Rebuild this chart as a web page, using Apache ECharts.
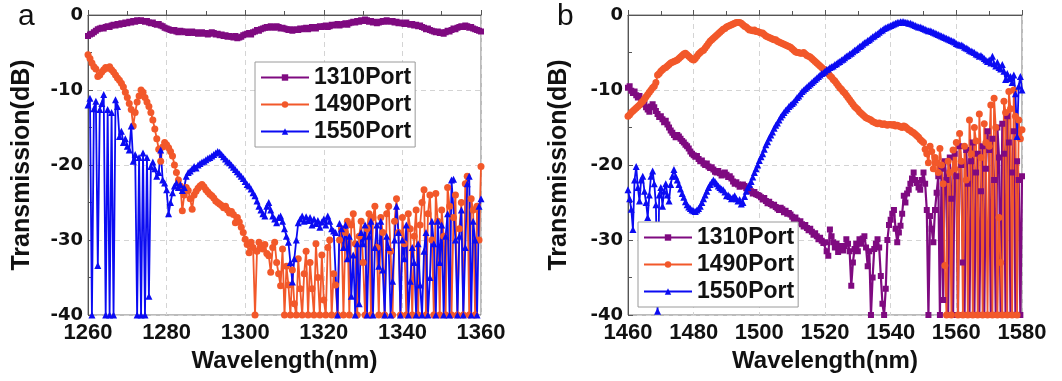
<!DOCTYPE html>
<html><head><meta charset="utf-8">
<script src="https://cdn.jsdelivr.net/npm/echarts@6/dist/echarts.min.js"></script>
<style>html,body{margin:0;padding:0;background:#fff}#c{width:1062px;height:381px}</style>
</head><body><div id="c"></div>
<script>
// ---------- data ----------
const seriesNames = ['1310Port', '1490Port', '1550Port'];
const xTicksA = [1260, 1280, 1300, 1320, 1340, 1360];
const xTicksB = [1460, 1480, 1500, 1520, 1540, 1560, 1580];
const yTicks = [-40, -30, -20, -10, 0];
const wlStep = 0.5; // nm, sampling step of the measured spectra

// panel a : 1260..1360 nm, step 0.5
const p1310A = [
-2.8,-2.6,-2.5,-2.3,-2.1,-1.9,-1.8,-1.7,-1.8,-1.6,
-1.5,-1.6,-1.4,-1.3,-1.4,-1.2,-1.3,-1.1,-1.2,-1.0,
-1.1,-0.9,-1.0,-0.8,-0.9,-0.7,-0.8,-0.7,-0.8,-0.9,
-0.8,-1.0,-1.1,-1.0,-1.2,-1.3,-1.2,-1.4,-1.5,-1.7,
-1.8,-1.9,-2.0,-2.1,-2.0,-2.2,-2.3,-2.1,-2.2,-2.3,
-2.2,-2.4,-2.3,-2.2,-2.4,-2.3,-2.5,-2.4,-2.3,-2.5,
-2.4,-2.6,-2.5,-2.3,-2.4,-2.6,-2.5,-2.7,-2.6,-2.8,
-2.7,-2.9,-2.8,-2.9,-3.0,-2.8,-3.1,-3.0,-2.9,-2.7,
-2.6,-2.5,-2.4,-2.6,-2.3,-2.2,-2.0,-2.1,-1.9,-1.8,
-1.7,-1.6,-1.7,-1.5,-1.6,-1.7,-1.5,-1.6,-1.8,-1.7,
-1.8,-1.9,-2.0,-1.9,-2.1,-2.0,-1.9,-2.0,-1.8,-1.9,
-1.8,-1.7,-1.9,-1.8,-1.6,-1.7,-1.8,-1.6,-1.5,-1.6,
-1.5,-1.4,-1.6,-1.5,-1.3,-1.4,-1.3,-1.2,-1.4,-1.3,
-1.2,-1.1,-1.3,-1.1,-1.0,-0.9,-1.0,-0.8,-0.9,-0.7,
-0.8,-0.6,-0.7,-0.9,-0.8,-1.0,-0.9,-1.1,-1.0,-0.9,
-0.8,-0.9,-0.7,-0.8,-0.9,-0.8,-1.0,-0.9,-1.1,-1.0,
-1.1,-1.2,-1.0,-1.2,-1.3,-1.2,-1.4,-1.3,-1.5,-1.4,
-1.6,-1.7,-1.9,-1.8,-2.0,-2.1,-2.2,-2.3,-2.2,-2.4,
-2.3,-2.5,-2.3,-2.1,-2.2,-2.0,-1.8,-1.9,-1.7,-1.6,
-1.5,-1.6,-1.4,-1.5,-1.7,-1.6,-1.8,-1.9,-2.0,-2.1,
-2.2];
const p1490A = [
-5.3,-5.8,-6.4,-6.9,-7.2,-8.2,-8.0,-7.6,-7.3,-7.0,
-7.1,-6.9,-7.3,-7.6,-8.0,-8.4,-8.7,-9.1,-9.6,-10.3,
-11.0,-11.8,-12.6,-14.8,-13.0,-11.6,-10.8,-10.0,-10.3,-11.0,
-11.6,-12.2,-13.0,-14.0,-15.2,-16.5,-17.9,-19.5,-17.6,-17.0,
-17.3,-17.7,-18.2,-18.8,-20.0,-21.0,-22.0,-22.8,-26.1,-24.0,
-23.0,-23.4,-24.5,-25.9,-24.0,-23.5,-23.1,-22.8,-22.6,-22.9,
-23.3,-23.6,-23.9,-24.1,-24.4,-24.8,-25.0,-25.2,-25.4,-25.7,
-25.5,-26.0,-26.4,-26.2,-26.6,-27.7,-27.0,-27.6,-28.3,-29.0,
-29.9,-30.6,-31.7,-30.3,-31.0,-40,-31.5,-30.3,-30.8,-31.2,
-30.6,-31.8,-32.1,-34.3,-31.0,-30.3,-33.0,-34.5,-36.1,-31.2,
-40,-33.5,-36.0,-40,-34.0,-38.5,-40,-32.5,-36.5,-40,
-34.5,-31.5,-40,-33.0,-36.5,-40,-30.5,-35.0,-40,-32.0,
-38.0,-40,-31.0,-30.0,-40,-34.5,-36.0,-40,-30.0,-28.5,
-40,-29.0,-27.5,-40,-28.0,-26.5,-30.5,-40,-29.5,-27.5,
-33.0,-40,-28.5,-26.5,-40,-27.0,-25.5,-31.0,-40,-27.0,
-29.0,-40,-26.5,-25.5,-31.5,-40,-27.5,-24.5,-29.0,-40,
-27.0,-30.5,-40,-26.5,-28.5,-40,-29.5,-26.0,-40,-28.0,
-25.0,-23.3,-40,-26.5,-24.0,-30.0,-40,-23.8,-27.5,-40,
-26.0,-29.5,-40,-23.0,-25.5,-40,-27.0,-24.0,-40,-28.5,
-25.0,-40,-22.5,-21.5,-40,-24.5,-26.0,-40,-25.5,-30.0,
-20.2];
const p1550A = [
-12.0,-11.1,-40,-12.5,-11.5,-33.4,-12.6,-11.8,-10.6,-40,
-12.6,-40,-13.0,-40,-11.3,-12.2,-16.2,-15.5,-17.0,-16.5,
-17.5,-18.0,-14.8,-19.5,-18.6,-40,-19.0,-40,-18.4,-40,
-19.0,-37.5,-20.2,-19.6,-20.5,-21.5,-21.0,-18.0,-22.0,-22.4,
-23.3,-26.5,-25.0,-23.7,-22.8,-22.4,-23.0,-22.6,-23.4,-23.0,
-21.5,-21.0,-20.8,-20.5,-20.2,-20.4,-20.0,-19.8,-19.6,-19.5,
-19.3,-19.1,-19.0,-18.8,-18.6,-18.4,-18.2,-18.3,-18.6,-18.9,
-19.2,-19.5,-19.7,-20.0,-20.3,-20.6,-20.9,-21.2,-21.5,-21.8,
-22.2,-22.6,-22.8,-23.2,-23.7,-24.1,-24.8,-25.5,-26.0,-26.5,
-26.8,-25.5,-25.0,-26.0,-26.8,-27.2,-27.7,-27.0,-26.8,-27.5,
-28.5,-29.5,-30.3,-33.0,-35.6,-32.5,-30.0,-27.7,-27.2,-26.8,
-27.5,-26.9,-27.4,-27.0,-28.0,-27.2,-27.8,-27.4,-28.3,-27.6,
-27.2,-28.0,-26.8,-27.5,-28.5,-28.8,-29.0,-40,-27.8,-28.5,
-31.0,-28.0,-32.5,-29.5,-37.5,-32.0,-40,-30.5,-38.5,-29.0,
-30.5,-28.0,-40,-29.5,-27.5,-40,-31.0,-28.0,-33.5,-27.5,
-34.0,-40,-29.5,-31.0,-40,-35.5,-30.0,-25.5,-29.0,-40,
-30.0,-32.5,-28.0,-40,-35.5,-31.0,-33.0,-40,-30.5,-36.0,
-40,-31.5,-29.0,-40,-35.0,-27.5,-30.5,-40,-27.5,-33.0,
-28.0,-40,-29.5,-26.5,-40,-22.0,-21.9,-30.0,-40,-29.5,
-26.0,-40,-31.0,-22.5,-21.5,-40,-27.5,-30.0,-40,-25.5,
-24.5];

// panel b : 1460..1580 nm, step 0.5
const p1310B = [
-9.7,-9.5,-10.1,-10.4,-10.2,-10.7,-11.0,-10.8,-11.4,-11.9,
-11.7,-12.3,-12.6,-12.9,-12.2,-11.9,-12.3,-12.8,-13.2,-13.6,
-13.5,-13.9,-14.3,-14.1,-14.6,-15.0,-15.4,-15.7,-16.0,-16.3,
-16.0,-16.2,-16.5,-16.8,-17.0,-17.3,-17.5,-17.8,-18.2,-18.5,
-18.7,-18.9,-18.8,-19.2,-19.5,-19.4,-19.8,-20.0,-19.8,-20.2,
-20.4,-20.3,-20.6,-20.9,-21.0,-20.8,-21.1,-21.4,-21.2,-21.0,
-21.3,-21.6,-21.5,-21.8,-22.2,-22.5,-22.3,-22.6,-22.9,-22.7,
-22.6,-22.8,-23.1,-23.4,-23.2,-23.5,-23.8,-23.6,-23.9,-24.0,
-24.1,-24.3,-24.6,-24.4,-24.8,-25.1,-24.9,-25.2,-25.4,-25.3,
-25.6,-25.8,-26.0,-25.7,-25.9,-26.3,-26.1,-26.5,-26.4,-26.6,
-26.9,-27.2,-27.0,-27.4,-27.7,-27.5,-27.9,-28.2,-28.0,-28.4,
-28.7,-28.5,-28.9,-29.3,-29.1,-29.5,-29.9,-29.7,-30.1,-30.4,
-30.3,-31.5,-32.1,-28.6,-29.5,-30.3,-31.0,-30.5,-31.6,-31.2,
-30.8,-31.4,-30.8,-29.9,-30.5,-31.5,-36.1,-33.0,-31.2,-30.5,
-31.5,-29.9,-30.5,-29.8,-29.5,-31.0,-33.5,-31.5,-40,-35.0,
-31.2,-30.5,-29.9,-31.0,-34.8,-38.5,-40,-36.5,-30.0,-28.0,
-27.3,-26.5,-26.0,-28.5,-30.3,-29.0,-28.1,-26.5,-24.1,-25.0,
-23.8,-23.3,-22.5,-21.8,-21.0,-22.0,-22.4,-23.0,-23.3,-22.0,
-21.0,-22.5,-26.0,-40,-26.8,-28.5,-30.3,-26.0,-23.7,-21.5,
-40,-20.5,-38.0,-19.5,-22.0,-40,-19.0,-24.5,-40,-18.5,
-21.5,-40,-17.5,-20.0,-33.0,-40,-18.0,-22.5,-40,-19.5,
-17.0,-40,-21.0,-18.5,-40,-23.5,-17.5,-40,-20.5,-15.5,
-18.0,-40,-16.5,-22.0,-40,-15.0,-19.0,-40,-14.5,-18.5,
-40,-13.5,-17.0,-40,-21.0,-15.5,-40,-19.5,-22.0,-40,
-21.5];
const p1490B = [
-13.5,-13.3,-13.0,-12.8,-12.6,-12.4,-12.2,-12.0,-11.7,-11.5,
-11.2,-10.9,-10.6,-10.3,-10.0,-9.7,-9.5,-9.0,-8.0,-7.8,
-7.5,-7.3,-7.1,-7.0,-6.8,-6.6,-6.4,-6.3,-6.2,-6.1,
-6.0,-5.8,-5.6,-5.4,-5.2,-5.1,-5.3,-5.5,-5.7,-5.9,
-6.0,-5.8,-5.5,-5.2,-5.0,-4.8,-4.7,-4.4,-4.1,-3.8,
-3.5,-3.3,-3.1,-2.9,-2.7,-2.5,-2.3,-2.1,-1.9,-1.8,
-1.6,-1.5,-1.4,-1.3,-1.2,-1.1,-1.0,-1.0,-1.0,-1.1,
-1.3,-1.5,-1.6,-1.8,-2.0,-2.0,-2.1,-2.0,-2.2,-2.2,
-2.3,-2.4,-2.4,-2.6,-2.8,-2.9,-3.0,-3.1,-3.2,-3.3,
-3.3,-3.5,-3.6,-3.7,-3.8,-3.9,-4.0,-4.1,-4.2,-4.3,
-4.5,-4.7,-4.9,-5.0,-5.0,-5.1,-5.1,-5.0,-5.2,-5.4,
-5.5,-5.6,-5.8,-6.0,-6.2,-6.4,-6.6,-6.8,-7.0,-7.2,
-7.3,-7.6,-7.8,-8.1,-8.3,-8.6,-8.8,-9.1,-9.4,-9.7,
-9.9,-10.2,-10.4,-10.7,-11.0,-11.3,-11.6,-11.9,-12.2,-12.4,
-12.6,-12.9,-13.1,-13.3,-13.5,-13.7,-13.8,-13.9,-14.0,-14.2,
-14.3,-14.4,-14.5,-14.4,-14.5,-14.6,-14.5,-14.6,-14.7,-14.6,
-14.6,-14.7,-14.6,-14.8,-14.7,-14.8,-14.9,-15.0,-14.8,-14.9,
-15.1,-15.3,-15.4,-15.6,-15.7,-15.9,-16.1,-16.3,-16.6,-16.8,
-17.0,-17.9,-18.5,-19.7,-17.5,-18.2,-20.5,-19.0,-19.7,-21.0,
-17.8,-20.0,-22.5,-33.4,-40,-19.5,-21.0,-40,-18.0,-20.5,
-17.0,-40,-15.8,-19.5,-40,-17.5,-22.0,-40,-14.0,-18.5,
-40,-15.0,-16.8,-40,-13.2,-19.0,-40,-14.5,-17.0,-40,
-17.5,-12.0,-40,-11.1,-15.0,-40,-27.0,-33.0,-40,-11.5,
-13.0,-40,-10.2,-12.5,-40,-10.0,-13.5,-40,-14.0,-16.5,
-15.3];
const p1550B = [
-23.3,-24.5,-25.9,-28.6,-22.0,-20.2,-23.0,-24.8,-22.0,-21.5,
-23.5,-25.0,-27.0,-24.0,-21.5,-20.8,-22.5,-25.3,-39.5,-24.0,
-23.0,-25.5,-23.5,-22.5,-24.0,-24.8,-22.6,-21.5,-20.6,-21.5,
-22.0,-22.6,-23.2,-23.8,-24.3,-24.9,-25.3,-25.6,-25.8,-26.0,
-26.1,-26.2,-26.0,-25.8,-25.5,-25.0,-24.5,-24.0,-23.5,-23.0,
-22.6,-22.3,-22.0,-22.2,-22.5,-22.8,-23.0,-23.2,-23.3,-23.6,
-24.1,-24.0,-24.2,-24.5,-24.3,-24.1,-24.5,-24.8,-24.6,-25.2,
-25.0,-24.2,-23.5,-23.0,-22.6,-22.2,-21.6,-21.0,-20.5,-20.0,
-19.4,-18.9,-18.5,-17.9,-17.3,-16.9,-16.4,-16.0,-15.6,-15.1,
-14.7,-14.4,-14.0,-13.6,-13.3,-13.0,-12.7,-12.5,-12.2,-12.0,
-11.8,-11.6,-11.3,-11.0,-10.8,-10.5,-10.2,-10.0,-9.8,-9.6,
-9.4,-9.2,-9.0,-8.8,-8.6,-8.4,-8.2,-8.0,-7.8,-7.7,
-7.5,-7.3,-7.2,-7.0,-6.9,-6.8,-6.6,-6.5,-6.3,-6.2,
-6.0,-5.9,-5.7,-5.5,-5.4,-5.2,-5.1,-4.9,-4.7,-4.6,
-4.4,-4.2,-4.1,-3.9,-3.7,-3.6,-3.4,-3.3,-3.1,-2.9,
-2.8,-2.6,-2.5,-2.3,-2.1,-2.0,-1.8,-1.7,-1.6,-1.5,
-1.4,-1.3,-1.2,-1.1,-1.0,-1.0,-0.9,-0.9,-0.9,-1.0,
-1.0,-1.1,-1.1,-1.2,-1.3,-1.4,-1.5,-1.6,-1.6,-1.7,
-1.8,-1.9,-2.0,-2.1,-2.1,-2.2,-2.3,-2.4,-2.5,-2.6,
-2.7,-2.8,-2.9,-3.0,-3.1,-3.2,-3.3,-3.4,-3.5,-3.6,
-3.8,-3.9,-4.0,-4.0,-4.1,-4.3,-4.4,-4.5,-4.7,-4.8,
-4.9,-5.0,-5.2,-5.3,-5.5,-5.4,-5.6,-5.8,-6.0,-6.2,
-6.0,-6.4,-5.5,-6.5,-6.8,-6.3,-7.0,-7.2,-6.6,-7.5,
-8.6,-7.8,-8.5,-8.2,-9.0,-8.0,-10.5,-16.2,-9.5,-8.2,
-10.0];

// ---------- chart ----------
function wavelengths(start, n) {
  const a = [];
  for (let i = 0; i < n; i++) a.push(+(start + i * wlStep).toFixed(2));
  return a;
}
function pairs(wl, vals) { return vals.map((v, i) => [wl[i], v]); }
const wlA = wavelengths(xTicksA[0], p1310A.length);
const wlB = wavelengths(xTicksB[0], p1310B.length);

const colors = ['#7f0a80', '#f2582a', '#0b0bf2'];
const symbols = ['rect', 'circle', 'triangle'];
const symSizes = [6, 7, 7];
const lineW = [2.2, 1.8, 1.8];

const AX = '#555';
const FONT = '"Liberation Sans", Arial, sans-serif';

function xAxis(gi, ticks) {
  return {
    gridIndex: gi, type: 'value', min: ticks[0], max: ticks[ticks.length - 1], interval: ticks[1] - ticks[0],
    axisLine: { lineStyle: { color: AX, width: 1 } },
    axisTick: { inside: true, length: 5, lineStyle: { color: AX } },
    minorTick: { show: true, splitNumber: 2, length: 4, lineStyle: { color: AX } },
    splitLine: { show: true, lineStyle: { type: [5, 4], color: '#d4d4d4' } },
    axisLabel: { fontFamily: FONT, fontWeight: 'bold', fontSize: 22, color: '#111', margin: 7, formatter: v => String(v) },
    name: 'Wavelength(nm)', nameLocation: 'middle', nameGap: 33,
    nameTextStyle: { fontFamily: FONT, fontWeight: 'bold', fontSize: 24, color: '#111' }
  };
}
function yAxis(gi, gap) {
  return {
    gridIndex: gi, type: 'value', min: yTicks[0], max: yTicks[yTicks.length - 1], interval: yTicks[1] - yTicks[0],
    axisLine: { lineStyle: { color: AX, width: 1 } },
    axisTick: { inside: true, length: 5, lineStyle: { color: AX } },
    minorTick: { show: true, splitNumber: 2, length: 4, lineStyle: { color: AX } },
    splitLine: { show: true, lineStyle: { type: [5, 4], color: '#d4d4d4' } },
    axisLabel: { fontFamily: '"DejaVu Sans", sans-serif', fontWeight: 'bold', fontSize: 18, color: '#111', margin: 5, formatter: v => String(v) },
    name: 'Transmission(dB)', nameLocation: 'middle', nameGap: gap,
    nameTextStyle: { fontFamily: FONT, fontWeight: 'bold', fontSize: 25, color: '#111' }
  };
}
function mkSeries(gi, wl, arrs) {
  return arrs.map((vals, k) => ({
    name: seriesNames[k], type: 'line', xAxisIndex: gi, yAxisIndex: gi,
    data: pairs(wl, vals), symbol: symbols[k], symbolSize: symSizes[k], showSymbol: true,
    showAllSymbol: true, clip: true,
    lineStyle: { color: colors[k], width: lineW[k] },
    itemStyle: { color: colors[k], borderWidth: 0 },
    emphasis: { disabled: true }
  }));
}
function legend(left, top) {
  return {
    left, top, orient: 'vertical', data: seriesNames,
    itemWidth: 48, itemHeight: 8, itemGap: 4,
    padding: [4, 4, 4, 5], backgroundColor: '#fff', borderColor: '#9a9a9a', borderWidth: 1,
    textStyle: { fontFamily: FONT, fontWeight: 'bold', fontSize: 23, color: '#111', padding: [0, 0, 0, 0] },
    selectedMode: false
  };
}

const chart = echarts.init(document.getElementById('c'), null, { renderer: 'canvas' });
chart.setOption({
  animation: false,
  backgroundColor: '#fff',
  grid: [
    { left: 88, top: 15, width: 393, height: 300, show: true, borderColor: '#777', borderWidth: 1, backgroundColor: 'transparent' },
    { left: 628, top: 15, width: 394, height: 300, show: true, borderColor: '#777', borderWidth: 1, backgroundColor: 'transparent' }
  ],
  xAxis: [xAxis(0, xTicksA), xAxis(1, xTicksB)],
  yAxis: [yAxis(0, 53), yAxis(1, 56)],
  legend: [legend(255, 62), legend(638, 222)],
  graphic: [
    { type: 'text', left: 18, top: 2, style: { text: 'a', font: '30px "Liberation Sans", Arial, sans-serif', fill: '#111' } },
    { type: 'text', left: 557, top: 2, style: { text: 'b', font: '30px "Liberation Sans", Arial, sans-serif', fill: '#111' } }
  ],
  series: [
    ...mkSeries(0, wlA, [p1310A, p1490A, p1550A]),
    ...mkSeries(1, wlB, [p1310B, p1490B, p1550B])
  ]
});
</script>
</body></html>
